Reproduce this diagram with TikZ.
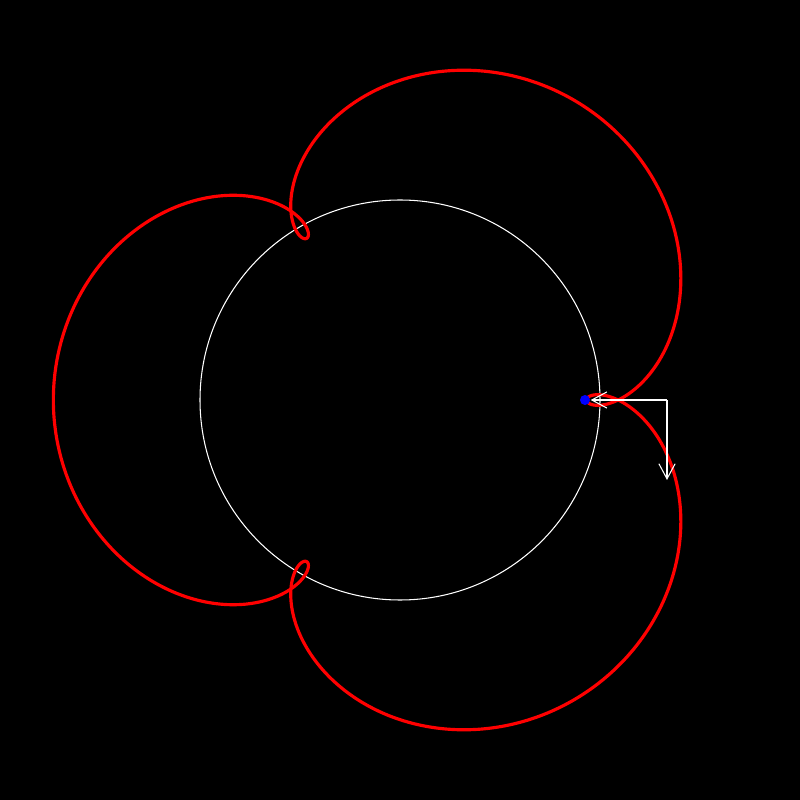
\documentclass[tikz,border=0pt]{standalone}
\usepackage{tikz}
\usetikzlibrary{arrows.meta}

\begin{document}
\begin{tikzpicture}[x=1cm,y=1cm]
        \fill[black](-4,-4) rectangle(4,4);
        \useasboundingbox(-4,-4) rectangle(4,4);
        \coordinate(O)at(0,0);
        \coordinate(C1)at(2.67,0);
        \coordinate(A1)at(2.67,-0.8);
        % fixed circle
        \draw[white, line width=0.3pt] (O) circle(2);
        % trace
        \draw[red, line width=0.9pt, line join=round] plot[domain=0:360, samples=500, smooth]
            ({2.6667*cos(\x)-0.8*cos(4*\x)},{2.6667*sin(\x)-0.8*sin(4*\x)}) -- cycle;
        % point
        \node[circle, fill=blue, inner sep=0pt, minimum size=0.1cm](P)at(1.85,0){};
        % vectors
        \path[draw, white, line width=0.3pt, -{Straight Barb[length=4.3pt,width=4.6pt]}](C1)to(P);
        \path[draw, white, line width=0.3pt, -{Straight Barb[length=4.3pt,width=4.6pt]}](C1)to(A1);
    \end{tikzpicture}
\end{document}
